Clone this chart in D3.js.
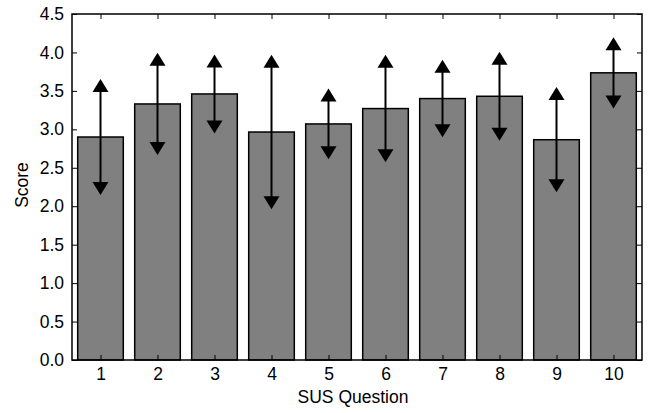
<!DOCTYPE html>
<html>
<head>
<meta charset="utf-8">
<script src="https://cdn.jsdelivr.net/npm/d3@7"></script>
<style>
  html, body { margin: 0; padding: 0; background: #fff; }
  text { font-family: "Liberation Sans", Arial, Helvetica, sans-serif; }
</style>
</head>
<body>
<svg id="chart" width="649" height="413"></svg>
<script>
const categories = [1, 2, 3, 4, 5, 6, 7, 8, 9, 10];
const scores = [2.90, 3.33, 3.46, 2.965, 3.07, 3.27, 3.40, 3.43, 2.865, 3.735];
const errors = [0.67, 0.58, 0.43, 0.92, 0.375, 0.615, 0.42, 0.495, 0.60, 0.378];
const yTicks = [0.0, 0.5, 1.0, 1.5, 2.0, 2.5, 3.0, 3.5, 4.0, 4.5];
const xLabel = "SUS Question";
const yLabel = "Score";

const W = 649, H = 413;
const m = { left: 72, right: 7, top: 14, bottom: 53 };
const svg = d3.select("#chart");
const fs = "17.5px";

const x = d3.scaleLinear().domain([0.5, 10.5]).range([m.left, W - m.right]);
const y = d3.scaleLinear().domain([0, 4.5]).range([H - m.bottom, m.top]);
const barW = x(0.8) - x(0);

// bars
svg.append("g").selectAll("rect").data(categories).join("rect")
  .attr("x", (d) => x(d) - barW / 2)
  .attr("y", (d, i) => y(scores[i]))
  .attr("width", barW)
  .attr("height", (d, i) => y(0) - y(scores[i]))
  .attr("fill", "#808080")
  .attr("stroke", "#000")
  .attr("stroke-width", 1.5);

// error bars
const eb = svg.append("g");
eb.selectAll("line").data(categories).join("line")
  .attr("x1", (d) => x(d)).attr("x2", (d) => x(d))
  .attr("y1", (d, i) => y(scores[i] + errors[i]))
  .attr("y2", (d, i) => y(scores[i] - errors[i]))
  .attr("stroke", "#000").attr("stroke-width", 2);
const tw = 8, th = 6.5;
eb.selectAll("path.up").data(categories).join("path").attr("class", "up")
  .attr("d", (d, i) => {
    const cx = x(d), cy = y(scores[i] + errors[i]);
    return `M${cx},${cy - th}L${cx - tw},${cy + th}L${cx + tw},${cy + th}Z`;
  }).attr("fill", "#000");
eb.selectAll("path.down").data(categories).join("path").attr("class", "down")
  .attr("d", (d, i) => {
    const cx = x(d), cy = y(scores[i] - errors[i]);
    return `M${cx},${cy + th}L${cx - tw},${cy - th}L${cx + tw},${cy - th}Z`;
  }).attr("fill", "#000");

// axes
function styleAxis(g) {
  g.select(".domain").remove();
  g.selectAll(".tick line").attr("stroke", "#000").attr("stroke-width", 1);
  g.selectAll("text").attr("font-size", fs).attr("fill", "#000");
}
svg.append("g").attr("transform", `translate(${m.left},0)`)
  .call(d3.axisLeft(y).tickValues(yTicks).tickFormat(d3.format(".1f")).tickSize(-5).tickPadding(8))
  .call(styleAxis);
svg.append("g").attr("transform", `translate(${W - m.right},0)`)
  .call(d3.axisRight(y).tickValues(yTicks).tickSize(-5).tickFormat(""))
  .call(styleAxis);
svg.append("g").attr("transform", `translate(0,${H - m.bottom})`)
  .call(d3.axisBottom(x).tickValues(categories).tickFormat(d3.format("d")).tickSize(-5).tickPadding(8))
  .call(styleAxis);
svg.append("g").attr("transform", `translate(0,${m.top})`)
  .call(d3.axisTop(x).tickValues(categories).tickSize(-5).tickFormat(""))
  .call(styleAxis);

// frame
svg.append("rect")
  .attr("x", m.left).attr("y", m.top)
  .attr("width", W - m.left - m.right).attr("height", H - m.top - m.bottom)
  .attr("fill", "none").attr("stroke", "#000").attr("stroke-width", 1.5);

// labels
svg.append("text")
  .attr("x", (m.left + W - m.right) / 2 - 4).attr("y", 403)
  .attr("text-anchor", "middle").attr("font-size", fs).text(xLabel);
svg.append("text")
  .attr("transform", `translate(28,${(m.top + H - m.bottom) / 2 - 2}) rotate(-90)`)
  .attr("text-anchor", "middle").attr("font-size", fs).text(yLabel);
</script>
</body>
</html>
